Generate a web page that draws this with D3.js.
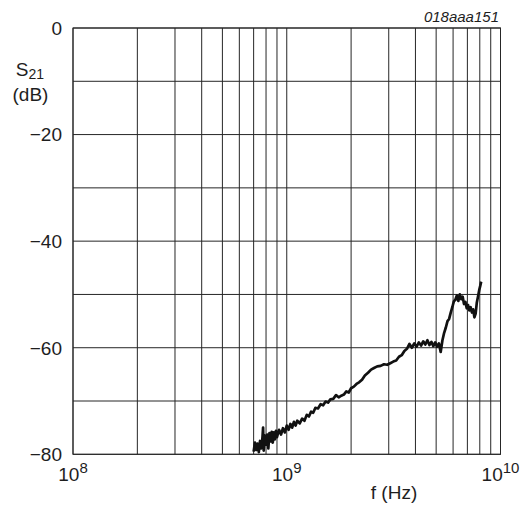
<!DOCTYPE html>
<html>
<head>
<meta charset="utf-8">
<script src="https://cdn.jsdelivr.net/npm/d3@7"></script>
<style>
  html, body { margin: 0; padding: 0; background: #fff; }
  svg { display: block; font-family: "Liberation Sans", Arial, sans-serif; }
</style>
</head>
<body>
<div id="chart"></div>
<script>
const freqGHz = [0.70,0.71,0.72,0.73,0.74,0.75,0.76,0.77,0.775,0.78,0.79,0.80,0.81,0.82,0.83,0.84,0.85,0.86,0.87,0.88,0.89,0.90,
  0.92,0.94,0.96,0.98,1.00,1.02,1.04,1.06,1.08,1.10,1.12,1.15,1.18,1.21,1.24,1.27,1.30,1.33,1.36,1.40,1.44,1.48,1.52,1.56,
  1.60,1.65,1.70,1.75,1.80,1.85,1.90,1.95,2.00,2.06,2.12,2.18,2.25,2.32,2.40,2.48,2.56,2.65,2.75,2.85,2.95,3.05,3.15,3.25,
  3.35,3.45,3.55,3.65,3.75,3.85,3.95,4.05,4.15,4.25,4.35,4.45,4.55,4.65,4.75,4.85,4.95,5.05,5.15,5.25,5.35,5.45,5.55,5.65,
  5.75,5.85,5.95,6.05,6.15,6.25,6.35,6.45,6.55,6.65,6.75,6.85,6.95,7.05,7.15,7.25,7.35,7.45,7.55,7.65,7.75,7.85,7.95,8.05,8.12];
const s21dB = [-79.5,-77.8,-79.2,-78.0,-79.6,-77.5,-78.9,-76.8,-75.0,-79.3,-76.5,-78.2,-76.3,-78.9,-76.0,-77.6,-75.8,-77.8,-75.9,-77.2,-75.6,-76.8,
  -75.4,-76.3,-75.1,-75.9,-74.6,-75.4,-74.3,-75.0,-73.9,-74.6,-73.7,-74.2,-73.3,-73.7,-72.6,-72.9,-72.0,-72.2,-71.3,-71.4,-70.6,-70.8,-70.1,-70.3,
  -69.7,-69.6,-68.9,-69.3,-69.0,-68.8,-68.2,-68.4,-67.6,-67.3,-66.8,-66.5,-66.0,-65.2,-64.7,-64.1,-63.8,-63.5,-63.4,-63.1,-63.2,-62.9,-62.6,-62.4,
  -61.7,-61.4,-60.6,-60.2,-59.3,-60.0,-59.2,-59.8,-59.0,-59.6,-58.8,-59.4,-58.6,-59.5,-58.9,-59.7,-59.0,-59.8,-59.2,-60.8,-58.6,-57.2,-56.2,-55.0,
  -54.6,-53.4,-52.4,-51.3,-51.0,-50.2,-51.2,-50.0,-50.9,-50.4,-51.8,-51.4,-52.6,-52.0,-53.0,-52.4,-53.4,-52.8,-54.3,-53.6,-51.5,-50.4,-49.2,-48.3,-47.6];

const yTickValues = [0, -20, -40, -60, -80];
const decadeExps = [8, 9, 10];
const yTitle = ["S", "21", "(dB)"];
const xTitle = "f (Hz)";
const figCode = "018aaa151";

const W = 526, H = 507;
const margin = { top: 28, right: 25.5, bottom: 52.7, left: 73 };
const width = W - margin.left - margin.right;
const height = H - margin.top - margin.bottom;
const ink = "#1e1e1e";

const svg = d3.select("#chart").append("svg")
  .attr("width", W)
  .attr("height", H);

const g = svg.append("g")
  .attr("transform", "translate(" + margin.left + "," + margin.top + ")");

const x = d3.scaleLog()
  .domain([1e8, 1e10])
  .range([0, width]);

const y = d3.scaleLinear()
  .domain([-80, 0])
  .range([height, 0]);

// grid
g.append("g").selectAll("line")
  .data(x.ticks())
  .enter().append("line")
  .attr("x1", d => x(d)).attr("x2", d => x(d))
  .attr("y1", 0).attr("y2", height)
  .attr("stroke", "#262626").attr("stroke-width", 1);

g.append("g").selectAll("line")
  .data(y.ticks(8))
  .enter().append("line")
  .attr("x1", 0).attr("x2", width)
  .attr("y1", d => y(d)).attr("y2", d => y(d))
  .attr("stroke", "#262626").attr("stroke-width", 1);

g.append("rect")
  .attr("width", width).attr("height", height)
  .attr("fill", "none").attr("stroke", "#262626").attr("stroke-width", 1);

// trace
const line = d3.line()
  .x((d, i) => x(freqGHz[i] * 1e9))
  .y(d => y(d));

g.append("path")
  .datum(s21dB)
  .attr("d", line)
  .attr("fill", "none")
  .attr("stroke", "#111")
  .attr("stroke-width", 2.7)
  .attr("stroke-linejoin", "round");

// y labels
g.append("g").selectAll("text")
  .data(yTickValues)
  .enter().append("text")
  .attr("x", -11)
  .attr("y", d => y(d))
  .attr("dy", "0.36em")
  .attr("text-anchor", "end")
  .attr("font-size", 19)
  .attr("fill", ink)
  .text(d => d < 0 ? "\u2212" + Math.abs(d) : d);

// x labels (10^n)
const xl = g.append("g").selectAll("text")
  .data(decadeExps)
  .enter().append("text")
  .attr("x", d => x(Math.pow(10, d)))
  .attr("y", height + 27)
  .attr("text-anchor", "middle")
  .attr("font-size", 19)
  .attr("fill", ink);
xl.append("tspan").text("10");
xl.append("tspan").attr("dy", -8).attr("font-size", 15).text(d => d);

// axis titles
const yt = svg.append("text")
  .attr("x", 30).attr("y", 75.5)
  .attr("text-anchor", "middle")
  .attr("font-size", 19)
  .attr("fill", ink);
yt.append("tspan").text(yTitle[0]);
yt.append("tspan").attr("dy", 3.5).attr("font-size", 14).text(yTitle[1]);

svg.append("text")
  .attr("x", 30.5).attr("y", 101)
  .attr("text-anchor", "middle")
  .attr("font-size", 19)
  .attr("fill", ink)
  .text(yTitle[2]);

svg.append("text")
  .attr("x", 394).attr("y", 499)
  .attr("text-anchor", "middle")
  .attr("font-size", 19)
  .attr("fill", ink)
  .text(xTitle);

svg.append("text")
  .attr("x", 499).attr("y", 22)
  .attr("text-anchor", "end")
  .attr("font-size", 15)
  .attr("font-style", "italic")
  .attr("fill", ink)
  .text(figCode);
</script>
</body>
</html>
